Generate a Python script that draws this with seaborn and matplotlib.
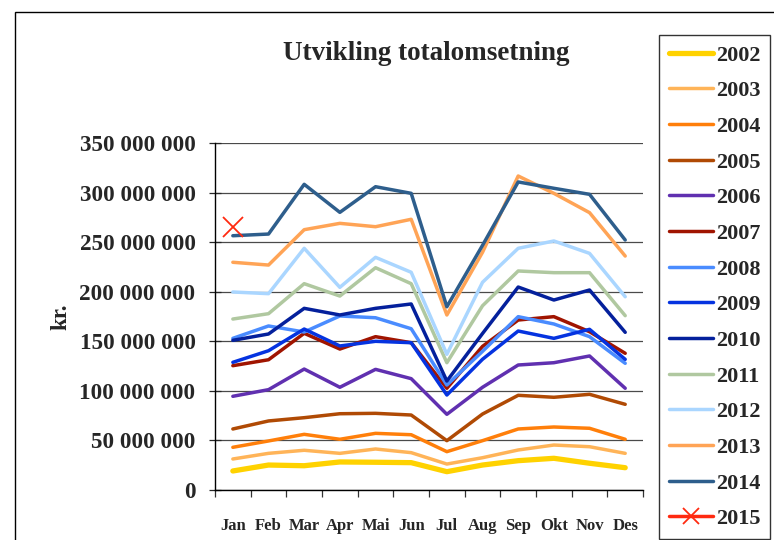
import numpy as np
import pandas as pd
import matplotlib
matplotlib.use('Agg')
import matplotlib.pyplot as plt
import seaborn as sns
from matplotlib.patches import Rectangle
from matplotlib.ticker import FuncFormatter, FixedLocator

months = ['Jan', 'Feb', 'Mar', 'Apr', 'Mai', 'Jun', 'Jul', 'Aug', 'Sep', 'Okt', 'Nov', 'Des']

# monthly turnover, million kr.
y2002 = [19.2, 25.2, 24.5, 28.3, 28.0, 27.6, 18.5, 25.2, 29.6, 32.0, 27.0, 22.5]
y2003 = [31.3, 37.0, 40.1, 37.0, 41.4, 37.7, 26.2, 32.6, 40.4, 45.4, 43.7, 37.0]
y2004 = [43.1, 49.5, 56.2, 51.2, 57.2, 55.8, 38.7, 49.8, 61.6, 63.6, 62.3, 51.2]
y2005 = [61.6, 69.7, 73.0, 77.0, 77.4, 75.7, 49.8, 76.7, 95.6, 93.6, 96.6, 86.5]
y2006 = [94.6, 101.3, 122.1, 103.7, 121.8, 112.4, 76.4, 103.7, 126.2, 128.5, 135.3, 102.7]
y2007 = [125.5, 131.5, 158.2, 142.3, 154.8, 148.7, 102.7, 145.0, 171.6, 175.0, 159.8, 138.0]
y2008 = [153.1, 165.6, 159.5, 175.7, 173.9, 162.8, 106.0, 140.0, 175.0, 167.6, 154.8, 127.9]
y2009 = [128.9, 140.6, 162.5, 145.4, 150.1, 148.7, 95.9, 132.0, 160.5, 153.1, 162.2, 131.9]
y2010 = [151.1, 157.5, 183.4, 176.7, 183.4, 187.8, 110.0, 158.0, 204.9, 191.8, 201.9, 159.2]
y2011 = [172.6, 178.0, 208.3, 195.8, 224.4, 208.3, 128.5, 186.0, 221.1, 219.4, 219.4, 176.0]
y2012 = [199.9, 198.2, 244.0, 204.6, 234.9, 219.8, 137.0, 209.7, 244.0, 251.4, 238.9, 195.1]
y2013 = [229.9, 227.1, 262.8, 269.2, 265.8, 273.3, 176.7, 240.0, 317.0, 299.5, 280.0, 236.2]
y2014 = [256.7, 258.4, 308.6, 280.3, 306.2, 299.5, 185.0, 247.0, 311.0, 304.6, 298.5, 252.4]
y2015 = [265.2]

years = ['2002', '2003', '2004', '2005', '2006', '2007', '2008',
         '2009', '2010', '2011', '2012', '2013', '2014', '2015']
series = [y2002, y2003, y2004, y2005, y2006, y2007, y2008,
          y2009, y2010, y2011, y2012, y2013, y2014, y2015]
colors = ['#FFD200', '#FFB458', '#FF7F0A', '#B04A04', '#6030B0', '#A01400', '#4A8CFF',
          '#0533E0', '#04209C', '#B0C8A0', '#AAD6FF', '#FFA456', '#2E5E8C', '#FF2A10']

sns.set_style('white')
plt.rcParams['font.family'] = ['Liberation Serif', 'DejaVu Serif']
plt.rcParams['font.weight'] = 'bold'

fig = plt.figure(figsize=(7.74, 5.4), dpi=100)
ax = fig.add_axes([0.2778, 0.0926, 0.553, 0.642])

for yr, vals, c in zip(years, series, colors):
    x = np.arange(len(vals))
    lw = 3.8 if yr == '2002' else 2.5
    if yr == '2015':
        sns.lineplot(x=x, y=np.array(vals) * 1e6, color=c, lw=2.5, marker='x',
                     markersize=15, markeredgewidth=1.3, markeredgecolor=c,
                     ax=ax, label=yr)
    else:
        sns.lineplot(x=x, y=np.array(vals) * 1e6, color=c, lw=lw, ax=ax, label=yr)

ax.set_xlim(-0.5, 11.5)
ax.set_ylim(0, 350e6)
ax.set_yticks(np.arange(0, 351e6, 50e6))
ax.yaxis.set_major_formatter(FuncFormatter(lambda v, p: f'{int(round(v)):,}'.replace(',', ' ')))
ax.grid(axis='y', color='#4a4a4a', lw=0.9)
ax.set_axisbelow(True)

ax.xaxis.set_major_locator(FixedLocator(np.arange(-0.5, 12, 1)))
ax.xaxis.set_minor_locator(FixedLocator(np.arange(0, 12)))
ax.set_xticklabels([], minor=False)
ax.set_xticklabels(months, minor=True)
ax.tick_params(axis='x', which='major', direction='out', length=5, width=0.9, color='#333333', bottom=True)
ax.tick_params(axis='x', which='minor', length=0, pad=20, labelsize=12)
ax.tick_params(axis='y', which='major', direction='inout', length=8, width=0.9, left=True,
               labelsize=16.7, pad=10)

for s in ['top', 'right']:
    ax.spines[s].set_visible(False)
for s in ['left', 'bottom']:
    ax.spines[s].set_color('black')
    ax.spines[s].set_linewidth(1.0)

ax.set_xlabel('')
ax.set_ylabel('kr.', fontsize=16.5, fontweight='bold', labelpad=6)

fig.text(0.551, 0.90, 'Utvikling totalomsetning', ha='center', va='center',
         fontsize=19.5, fontweight='bold')

handles, labels = ax.get_legend_handles_labels()
if ax.get_legend() is not None:
    ax.get_legend().remove()
leg = fig.legend(handles, labels, loc='upper left', bbox_to_anchor=(659 / 774, 1 - 35 / 540),
                 frameon=True, fancybox=False, edgecolor='black', markerscale=0.75,
                 handlelength=2.0, handletextpad=0.1, labelspacing=0.68,
                 borderpad=0.45, borderaxespad=0, prop={'weight': 'bold', 'size': 16})
leg.get_frame().set_linewidth(1.0)

fig.patches.append(Rectangle((15 / 774, -0.2), 1.2, 1 - 12 / 540 + 0.2,
                             transform=fig.transFigure, fill=False, edgecolor='black',
                             lw=1.0, clip_on=False))

fig.savefig('out.png', dpi=100, facecolor='white')
